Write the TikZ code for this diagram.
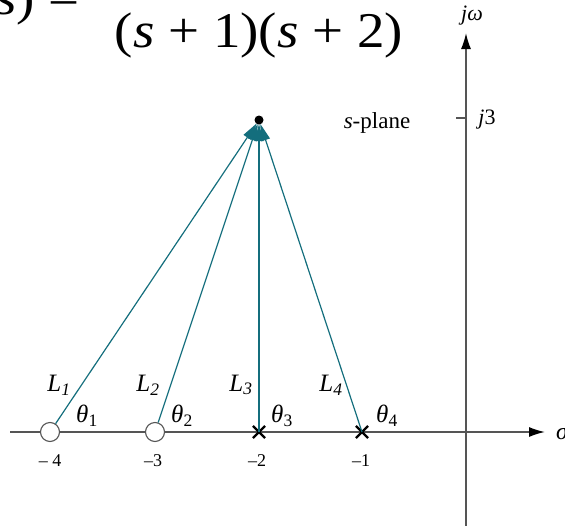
\documentclass[tikz,border=0pt]{standalone}
\usepackage{fontspec}
\setmainfont{Liberation Serif}
\usetikzlibrary{arrows.meta,shapes.misc}
\definecolor{tealvec}{RGB}{20,110,125}
\definecolor{axisgray}{RGB}{85,85,85}
\begin{document}
\begin{tikzpicture}[x=1pt,y=-1pt,
  axisline/.style={draw=axisgray,line width=1.5pt,-{Latex[length=16pt,width=10pt,black]}},
  vec/.style={draw=tealvec,line width=1.2pt,-{Triangle[length=17pt,width=9pt,fill=tealvec]}},
  zeronode/.style={circle,draw=axisgray,fill=white,line width=1.1pt,minimum size=19pt,inner sep=0pt},
  polenode/.style={cross out,draw=black,line width=2.2pt,minimum size=10pt,inner sep=0pt},
  biglab/.style={font=\fontsize{25}{25}\selectfont},
  ticklab/.style={font=\fontsize{18}{18}\selectfont},
  eqn/.style={font=\fontsize{50}{50}\selectfont,inner sep=0pt}
]
\useasboundingbox (0,0) rectangle (565,525);
\clip (0,0) rectangle (565,525);
% formula (cropped)
\node[eqn,anchor=base east] (lhs) at (80,14) {\scalebox{1.1}[1]{\textit{s})\hspace{0.25em}=}};
\node[eqn,anchor=base] (den) at (259,47) {\scalebox{1.1}[1]{(\textit{s} + 1)(\textit{s} + 2)}};
% axes
\coordinate (xl) at (10,432);
\coordinate (xr) at (545,432);
\coordinate (yb) at (466,530);
\coordinate (yt) at (466,33);
\draw[axisline] (xl) -- (xr);
\draw[axisline] (yb) -- (yt);
\node[font=\fontsize{24}{24}\selectfont\itshape,anchor=west,inner sep=0pt] (sig) at (556,433) {σ};
\node[font=\fontsize{22}{22}\selectfont\itshape] (jw) at (472,16) {jω};
\coordinate (t3a) at (456,118);
\coordinate (t3b) at (466,118);
\draw[axisgray,line width=1.3pt] (t3a) -- (t3b);
\node[font=\fontsize{22}{22}\selectfont] (j3) at (487,120) {\textit{j}3};
\node[font=\fontsize{23}{23}\selectfont] (splane) at (377,123) {\textit{s}-plane};
% test point
\coordinate (P) at (259,120);
% zeros and poles
\node[zeronode] (z1) at (50,432) {};
\node[zeronode] (z2) at (155,432) {};
\node[polenode] (p1) at (259,432) {};
\node[polenode] (p2) at (362,432) {};
% vectors
\draw[vec,shorten >=4pt] (z1) -- (P);
\draw[vec,shorten >=4pt] (z2) -- (P);
\draw[vec,shorten >=4pt] (p1.center) -- (P);
\draw[vec,shorten >=4pt] (p2.center) -- (P);
\fill[black] (P) circle (4.5pt);
% labels
\node[biglab] (L1) at (59,385) {\textit{L}\textsubscript{\textit{1}}};
\node[biglab] (L2) at (148,385) {\textit{L}\textsubscript{\textit{2}}};
\node[biglab] (L3) at (241,385) {\textit{L}\textsubscript{\textit{3}}};
\node[biglab] (L4) at (331,385) {\textit{L}\textsubscript{\textit{4}}};
\node[biglab] (th1) at (87,416) {\textit{θ}\textsubscript{1}};
\node[biglab] (th2) at (182,416) {\textit{θ}\textsubscript{2}};
\node[biglab] (th3) at (282,416) {\textit{θ}\textsubscript{3}};
\node[biglab] (th4) at (387,416) {\textit{θ}\textsubscript{4}};
\node[ticklab] (n4) at (50,461) {– 4};
\node[ticklab] (n3) at (153,461) {–3};
\node[ticklab] (n2) at (257,461) {–2};
\node[ticklab] (n1) at (361,461) {–1};
\end{tikzpicture}
\end{document}
